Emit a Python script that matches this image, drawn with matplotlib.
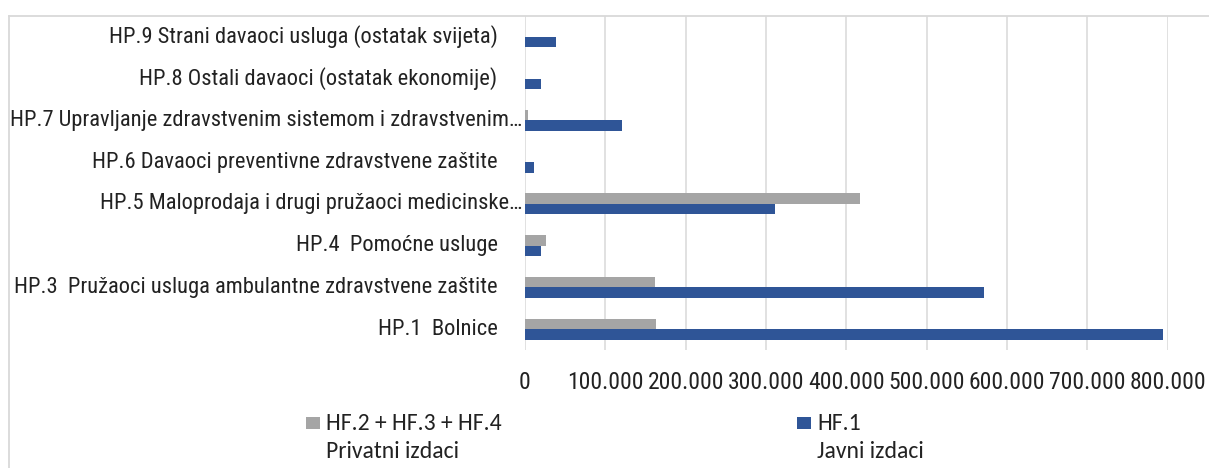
import matplotlib
matplotlib.use("Agg")
import matplotlib.pyplot as plt
import numpy as np
from matplotlib.patches import Rectangle
from matplotlib.lines import Line2D
from matplotlib.transforms import offset_copy

# data (bottom to top)
categories = [
    "HP.1  Bolnice",
    "HP.3  Pružaoci usluga ambulantne zdravstvene zaštite",
    "HP.4  Pomoćne usluge",
    "HP.5 Maloprodaja i drugi pružaoci medicinske…",
    "HP.6 Davaoci preventivne zdravstvene zaštite",
    "HP.7 Upravljanje zdravstvenim sistemom i zdravstvenim…",
    "HP.8 Ostali davaoci (ostatak ekonomije)",
    "HP.9 Strani davaoci usluga (ostatak svijeta)",
]
privatni = [163000, 162000, 26400, 417400, 0, 3900, 0, 0]
javni = [794400, 571600, 20200, 311700, 11200, 120400, 19700, 38800]

series_names = ["HF.2 + HF.3 + HF.4", "HF.1"]
series_sub = ["Privatni izdaci", "Javni izdaci"]
series_colors = ["#A5A5A5", "#2F5597"]

xticks = [0, 100000, 200000, 300000, 400000, 500000, 600000, 700000, 800000]
xtick_labels = [f"{v:,}".replace(",", ".") for v in xticks]

W, H = 1209, 468
DPI = 100
NARROW = ["Roboto Condensed", "Archivo Narrow", "Liberation Sans"]
LEG_FONT = ["Carlito", "Lato", "DejaVu Sans"]


def fx(px):
    return px / W


def fy(py):
    return 1 - py / H


fig = plt.figure(figsize=(W / DPI, H / DPI), dpi=DPI)
ax = fig.add_axes([fx(525), fy(350), fx(1167.7) - fx(525), fy(16) - fy(350)])

y = np.arange(len(categories))
bh = 0.25
ax.barh(y + bh / 2, privatni, height=bh, color=series_colors[0], zorder=3)
ax.barh(y - bh / 2, javni, height=bh, color=series_colors[1], zorder=3)

ax.set_xlim(0, 800000)
ax.set_ylim(-0.5, len(categories) - 0.5)
ax.set_xticks(xticks)
ax.set_xticklabels(xtick_labels, fontfamily=NARROW, fontsize=17, color="#222222")
ax.tick_params(axis="x", length=0, pad=15)
ax.set_yticks([])
ax.grid(axis="x", color="#D9D9D9", linewidth=1.1, zorder=0)
for s in ax.spines.values():
    s.set_visible(False)

# category labels, right aligned; truncated ones run closer to the axis
for yi, cat in zip(y, categories):
    shift = -2.5 if cat.endswith("…") else -27.5
    tr = offset_copy(ax.get_yaxis_transform(), fig=fig, x=shift * 72 / DPI, units="points")
    ax.text(0, yi, cat, transform=tr, ha="right", va="center",
            fontfamily=NARROW, fontsize=16.2, color="#222222")

# chart border (partly cropped)
fig.add_artist(Line2D([fx(9), fx(9)], [0, fy(16)], color="#D9D9D9", lw=1.3))
fig.add_artist(Line2D([fx(9), 1], [fy(16), fy(16)], color="#D9D9D9", lw=1.3))

# legend
leg_x = [306, 797]
for lx, name, sub, col in zip(leg_x, series_names, series_sub, series_colors):
    fig.add_artist(Rectangle((fx(lx), fy(429)), fx(13.5), fy(417) - fy(429),
                             transform=fig.transFigure, color=col, lw=0))
    fig.text(fx(lx + 20), fy(423), name, ha="left", va="center",
             fontfamily=LEG_FONT, fontsize=17, color="#222222")
    fig.text(fx(lx + 20), fy(451), sub, ha="left", va="center",
             fontfamily=LEG_FONT, fontsize=17, color="#222222")

fig.savefig("out.png", dpi=DPI)
